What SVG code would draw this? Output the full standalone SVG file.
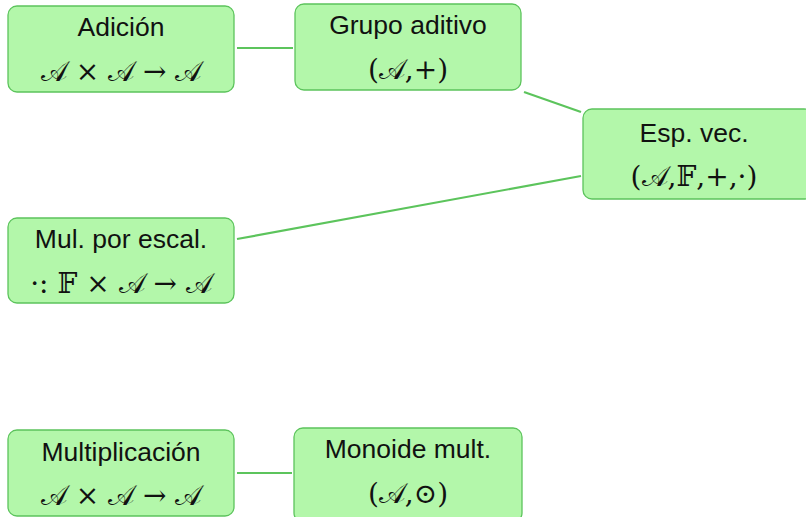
<svg xmlns="http://www.w3.org/2000/svg" width="806" height="517" viewBox="0 0 806 517">
  <style>
    .box { fill: #b3f7aa; stroke: #5cc45c; stroke-width: 1.3; }
    .link { stroke: #5cc45c; stroke-width: 2.2; fill: none; }
    .lbl { font-family: "Liberation Sans", "DejaVu Sans", sans-serif; font-size: 26.5px; fill: #111; text-anchor: middle; }
    .math { font-family: "DejaVu Serif", "DejaVu Sans", "Liberation Serif", serif; font-size: 28px; fill: #111; text-anchor: middle; }
  </style>

  <g id="connectors">
    <line class="link" x1="237" y1="48" x2="293" y2="48"/>
    <line class="link" x1="524" y1="92" x2="581" y2="112"/>
    <line class="link" x1="237" y1="239" x2="581" y2="176"/>
    <line class="link" x1="237" y1="473" x2="292" y2="473"/>
  </g>

  <g id="adicion">
    <rect class="box" x="8" y="6" width="226" height="86" rx="9"/>
    <text class="lbl" x="121" y="36">Adición</text>
    <text class="math" x="121" y="81">𝒜 × 𝒜 → 𝒜</text>
  </g>

  <g id="grupo-aditivo">
    <rect class="box" x="295" y="4" width="226" height="86" rx="9"/>
    <text class="lbl" x="408" y="34">Grupo aditivo</text>
    <text class="math" x="408" y="79">(𝒜,+)</text>
  </g>

  <g id="esp-vec">
    <rect class="box" x="583" y="109" width="230" height="90" rx="9"/>
    <text class="lbl" x="694" y="142">Esp. vec.</text>
    <text class="math" x="694" y="186">(𝒜,𝔽,+,·)</text>
  </g>

  <g id="mul-escal">
    <rect class="box" x="8" y="218" width="226" height="85" rx="9"/>
    <text class="lbl" x="121" y="248">Mul. por escal.</text>
    <text class="math" x="121" y="293">·: 𝔽 × 𝒜 → 𝒜</text>
  </g>

  <g id="multiplicacion">
    <rect class="box" x="8" y="430" width="226" height="86" rx="9"/>
    <text class="lbl" x="121" y="461">Multiplicación</text>
    <text class="math" x="121" y="505">𝒜 × 𝒜 → 𝒜</text>
  </g>

  <g id="monoide-mult">
    <rect class="box" x="294" y="428" width="228" height="94" rx="9"/>
    <text class="lbl" x="408" y="458">Monoide mult.</text>
    <text class="math" x="408" y="503">(𝒜,⊙)</text>
  </g>
</svg>
